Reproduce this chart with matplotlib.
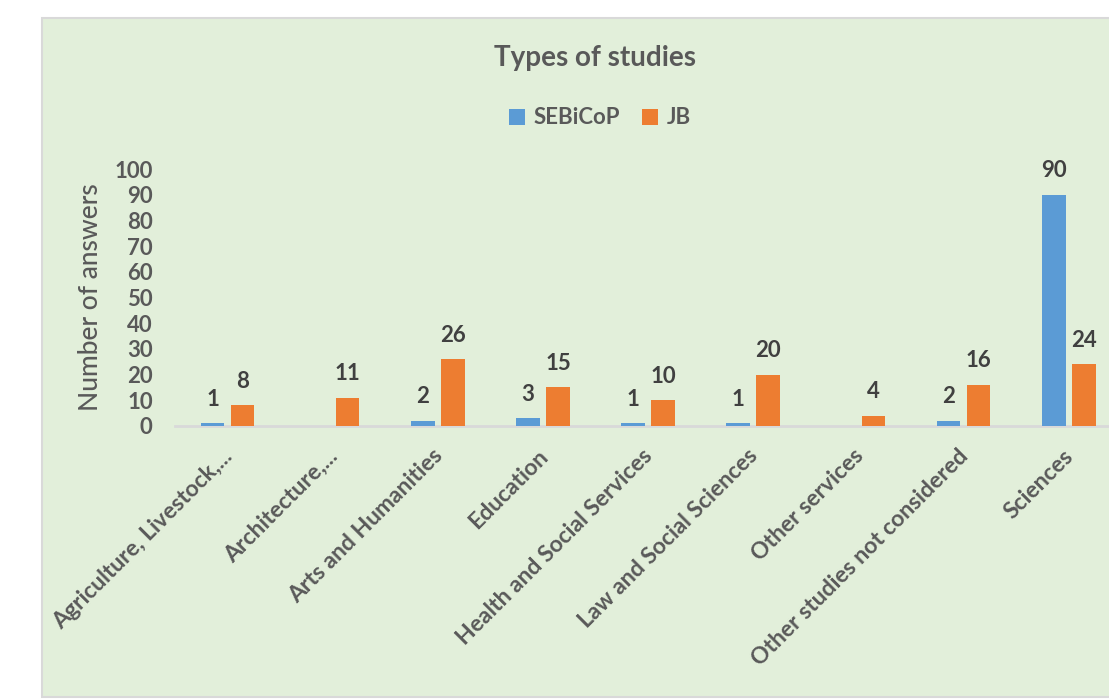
import matplotlib
matplotlib.use("Agg")
import matplotlib.pyplot as plt
from matplotlib.patches import Rectangle
from matplotlib.transforms import ScaledTranslation
import numpy as np

categories = [
    "Agriculture, Livestock,...",
    "Architecture,...",
    "Arts and Humanities",
    "Education",
    "Health and Social Services",
    "Law and Social Sciences",
    "Other services",
    "Other studies not considered",
    "Sciences",
]
sebicop = [1, None, 2, 3, 1, 1, None, 2, 90]
jb = [8, 11, 26, 15, 10, 20, 4, 16, 24]
series_names = ["SEBiCoP", "JB"]
yticks = list(range(0, 101, 10))

BLUE = "#5B9BD5"
ORANGE = "#ED7D31"
PANEL = "#E2EFDA"
TEXT = "#595959"
LABEL = "#404040"

plt.rcParams["font.family"] = ["Lato", "DejaVu Sans"]

W, H = 1109, 700
fig = plt.figure(figsize=(W / 100, H / 100), dpi=100)
fig.patch.set_facecolor("white")

# chart area panel
fig.patches.append(Rectangle((42 / W, 3 / H), 1.2, (697 - 18) / H,
                             transform=fig.transFigure, facecolor=PANEL,
                             edgecolor="#D9D9D9", linewidth=1.5, zorder=-5))

left, right = 174.9, 1121.4
bottom, top = 426, 169
ax = fig.add_axes([left / W, (H - bottom) / H, (right - left) / W, (bottom - top) / H])
ax.set_zorder(2)
ax.set_facecolor("none")

x = np.arange(len(categories))
bw = 0.225
off = 0.1426
s_vals = np.array([np.nan if v is None else v for v in sebicop], dtype=float)
j_vals = np.array(jb, dtype=float)

ax.bar(x - off, np.nan_to_num(s_vals), bw, color=BLUE, label=series_names[0], zorder=3)
ax.bar(x + off, j_vals, bw, color=ORANGE, label=series_names[1], zorder=3)

for xi, v in zip(x, s_vals):
    if not np.isnan(v):
        ax.annotate(f"{int(v)}", (xi - off, v), xytext=(0, 17.3), textcoords="offset points",
                    ha="center", va="center", fontsize=16, fontweight="bold", color=LABEL)
for xi, v in zip(x, j_vals):
    ax.annotate(f"{int(v)}", (xi + off, v), xytext=(0, 17.3), textcoords="offset points",
                ha="center", va="center", fontsize=16, fontweight="bold", color=LABEL)

ax.set_xlim(-0.5, len(categories) - 0.5)
ax.set_ylim(0, 100)
ax.set_yticks(yticks)
ax.set_yticklabels([str(t) for t in yticks], fontsize=16, fontweight="bold", color=TEXT)
ax.tick_params(axis="y", length=0, pad=16)
ax.set_xticks(x)
ax.set_xticklabels(categories, rotation=45, ha="right", rotation_mode="anchor",
                   fontsize=16.5, fontweight="bold", color=TEXT)
ax.tick_params(axis="x", length=0, pad=14)
shift = ScaledTranslation(-6 / 100, 0, fig.dpi_scale_trans)
for lbl in ax.get_xticklabels():
    lbl.set_transform(lbl.get_transform() + shift)

for s in ["top", "right", "left"]:
    ax.spines[s].set_visible(False)
ax.spines["bottom"].set_color("#D9D9D9")
ax.spines["bottom"].set_linewidth(2)

ax.set_ylabel("Number of answers", fontsize=19, fontweight="medium", color=TEXT)
ax.yaxis.set_label_coords(-(174.9 - 91) / (right - left), 0.5)
ax.yaxis.label.set_va("center")

fig.text(595 / W, 1 - 58 / H, "Types of studies", ha="center", va="center",
         fontsize=20, fontweight="bold", color=TEXT)

leg = fig.legend(loc="center", bbox_to_anchor=(600 / W, 1 - 118 / H), ncol=2, frameon=False,
                 prop={"size": 16, "weight": "bold"}, handlelength=0.7, handleheight=0.7,
                 handletextpad=0.4, columnspacing=1.0)
for t in leg.get_texts():
    t.set_color(TEXT)

fig.savefig("out.png", dpi=100, facecolor="white")
